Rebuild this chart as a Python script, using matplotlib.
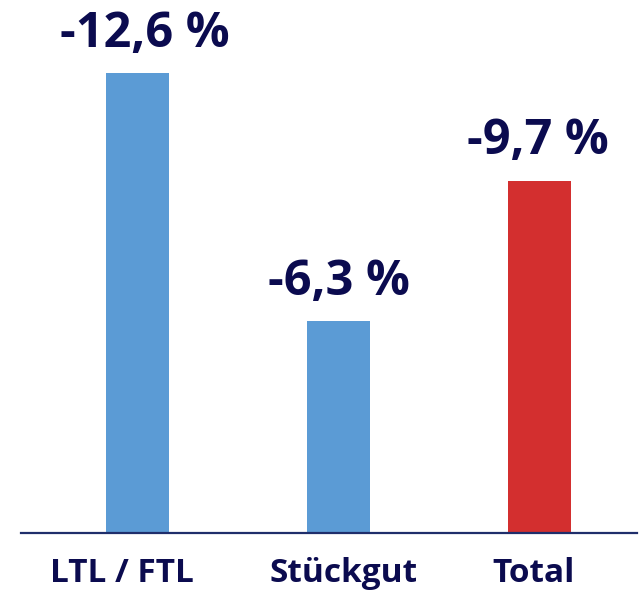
import matplotlib.pyplot as plt
from matplotlib.transforms import ScaledTranslation

categories = ['LTL / FTL', 'Stückgut', 'Total']
heights = [12.6, 5.8, 9.65]
labels = ['-12,6 %', '-6,3 %', '-9,7 %']
colors = ['#5B9BD5', '#5B9BD5', '#D32F2F']

navy = '#0B0B4F'
plt.rcParams['font.family'] = ['Open Sans', 'DejaVu Sans']

fig = plt.figure(figsize=(6.41, 5.94), dpi=100)
ax = fig.add_axes([21 / 641, 61 / 594, 616 / 641, 533 / 594])

x = range(len(categories))
bars = ax.bar(x, heights, width=0.315, color=colors, zorder=2)

# small horizontal nudges (in pixels) seen in the original layout
val_shift = [7, 0, -2]
cat_shift = [-16, 5, -6]

for b, lab, dx in zip(bars, labels, val_shift):
    ax.annotate(lab, (b.get_x() + b.get_width() / 2, b.get_height()),
                xytext=(dx * 0.72, 19), textcoords='offset points',
                ha='center', va='baseline', fontsize=35, fontweight='bold', color=navy)

ax.set_xlim(-0.581, 2.484)
ax.set_ylim(0, 14.6)
ax.set_xticks(list(x))
ax.set_xticklabels(categories, fontsize=24, fontweight='bold', color=navy)
ax.tick_params(axis='x', length=0, pad=17)
for t, dx in zip(ax.get_xticklabels(), cat_shift):
    t.set_transform(t.get_transform() + ScaledTranslation(dx / 100, 0, fig.dpi_scale_trans))
ax.set_yticks([])
for s in ['top', 'right', 'left']:
    ax.spines[s].set_visible(False)
ax.spines['bottom'].set_color('#1F2E6B')
ax.spines['bottom'].set_linewidth(1.6)
ax.spines['bottom'].set_zorder(3)

fig.savefig('out.png', dpi=100)
